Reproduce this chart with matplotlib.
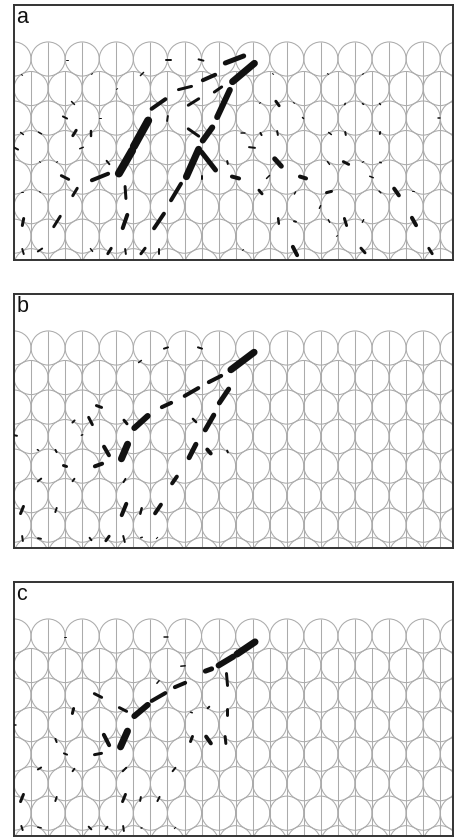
import numpy as np
import matplotlib.pyplot as plt
from matplotlib.patches import Circle
from matplotlib.collections import PatchCollection, LineCollection

PITCH = 34.1      # centre-to-centre spacing of the cells
ROW0 = 54         # depth of the first row of cell centres
GRID_W = 439      # width of each panel

# dash fields, one set per panel: centre x, centre y, length, angle (deg), width (px)
a_x = [154, 187, 128, 171, 204, 195, 220.5, 229.5, 209.5, 193.5,
       178.5, 144.5, 179.5, 153.5, 179.5, 51, 59, 60.5, 76.5, 2,
       67.5, 51, 86, 111.5, 127, 94, 61, 111.5, 9, 43,
       111, 145, 162, 194.5, 188, 9, 26, 77.5, 95.5, 111.5,
       129, 145, 229, 247, 263.5, 238, 213.5, 264, 221.5, 254,
       289, 246.5, 281, 315, 263.5, 289, 316, 331.5, 314.5, 332,
       349, 366.5, 357.5, 366, 382.5, 306, 264.5, 281, 315, 331.5,
       349, 400, 281, 349, 416.5, 331, 349, 366, 366, 425,
       259, 314, 349, 246, 280, 53, 8, 78, 103, 86,
       26, 43, 8, 26, 8, 26, 229, 323, 399]
a_y = [55, 55, 69, 83, 84.5, 72.5, 54.5, 67.5, 98.5, 129,
       158, 99, 97, 113.5, 127.5, 112.5, 98, 128, 128.5, 143.5,
       143, 172.5, 172, 157, 128.5, 157.5, 187, 187.5, 217, 216.5,
       216.5, 216, 187, 156, 172.5, 246.5, 245, 245, 246, 246.5,
       246, 246.5, 128, 129, 128, 142.5, 157.5, 157.5, 172.5, 172,
       172.5, 187, 188, 187, 98.5, 113, 128.5, 128.5, 158, 158,
       157, 157.5, 172, 187, 187, 202, 216, 216.5, 216, 217,
       216, 216.5, 246, 245.5, 246, 99, 99, 99, 128, 113,
       69, 69, 69, 98, 98, 55, 70, 69, 84, 113,
       157, 157, 187, 187, 128.5, 128, 245, 231, 186]
a_len = [7, 7, 6, 16.5, 12, 17.5, 24.7, 35.5, 36, 22.2,
         37, 20.8, 15.3, 7, 15.8, 6.7, 5.7, 9.4, 7, 6.7,
         5.4, 11.2, 21.5, 34.5, 37.6, 6.4, 11.7, 15, 10.2, 15.3,
         18, 21.6, 23.3, 27.8, 5, 7.3, 7.2, 5, 9.4, 7,
         10, 7, 6, 4.5, 6, 8, 5, 14.9, 11.4, 5.7,
         10.4, 7.8, 4, 8.2, 8.6, 3, 5, 5, 5, 9,
         3, 3.2, 5.4, 4, 12.2, 4.5, 8, 4, 4.5, 10.4,
         4.5, 12.5, 13.4, 9.2, 9.4, 3, 3, 3, 4, 4,
         2.5, 2.5, 2.5, 2.5, 2.5, 2.5, 2.5, 2.5, 2.5, 2.5,
         2.5, 2.5, 2.5, 2.5, 5, 5, 2.5, 2.5, 2.5]
a_ang = [0, -15, 45, 14, 35, 24, 21, 40, 65, 54,
         66, 35, 32, 82, -35, -27, -45, 58, 90, -27,
         22, -27, 22, 60, 61, -51, 59, 94, 79, 58,
         71, 56, 59, -52, 90, -74, 34, -53, 58, -82,
         53, 90, 0, -63, -80, -7, -79, -48, -15, 45,
         -17, -50, 60, 14, -54, -45, -37, 101, -53, -27,
         30, -18, -22, -45, -55, 65, -83, -14, -63, -73,
         63, -61, -63, -49, -58, 70, -30, -50, 80, 0,
         -30, -30, 30, 30, -30, 0, -30, 30, 30, 0,
         -30, 30, 0, -30, -37, -30, 30, 30, 0]
a_w = [2, 2, 1.5, 3, 3, 4, 5, 7, 6, 6,
       7, 4, 3, 2, 3, 2, 1.5, 3, 2.5, 2,
       1.5, 3, 4, 8, 8, 2, 3, 3, 3, 3,
       4, 4, 4, 5, 2, 2, 2, 1.5, 3, 2,
       3, 2, 1.5, 2, 2, 2, 2, 5, 4, 1.5,
       4, 3, 1.5, 3, 3, 1.5, 1.5, 2, 1.5, 3,
       1, 1.5, 1.5, 1.5, 4, 1.5, 2.5, 2, 1.5, 3,
       1.5, 4, 4, 3, 3, 1.5, 1.5, 1.5, 2, 1.5,
       1, 1, 1, 1, 1, 1, 1, 1, 1, 1,
       1, 1, 1, 1, 1.5, 1.5, 1, 1, 1]

b_x = [152, 186, 126, 85, 127, 152.5, 177.5, 201, 228.5, 210,
       195.5, 178.5, 195, 213.5, 160.5, 180.5, 76.5, 59.5, 111.5, 1.5,
       68, 92.5, 110.5, 84.5, 51, 42, 24, 25.5, 59.5, 110.5,
       8, 42, 110, 127, 144, 8.5, 25.5, 76.5, 93.5, 110, 127.5, 143]
b_y = [54, 54, 67.5, 112.5, 128, 111, 98, 85, 67, 102,
       128.5, 157, 157.5, 157.5, 186, 126.5, 127, 127.5, 128, 141.5,
       141, 157, 157.5, 171, 172, 157, 156, 186, 186, 186.5,
       216, 216, 215.5, 217, 215, 244.5, 244.5, 245, 244.5, 245, 243.5, 244]
b_len = [6.3, 6.3, 5, 8.5, 24, 14.3, 19.7, 17.9, 36, 21.6,
         22, 20, 9.2, 4, 12.2, 7, 11.2, 5, 7.8, 5,
         3, 13.9, 22.8, 11.7, 6.3, 4.5, 3, 6.4, 5, 5.8,
         10.8, 6.3, 16.2, 8.2, 14.4, 7, 5, 5, 8.6, 8.2, 3.2, 3]
b_ang = [18, -18, 37, -20, 42, 25, 30, 27, 37, 56,
         60, 63, -49, -70, 55, -45, -63, 45, -50, -11,
         20, -60, 67, 20, -18, -63, -30, 39, 53, 59,
         68, 72, 68, 76, 56, -82, -11, -53, 54, -76, 18, 45]
b_w = [2, 2, 1.5, 3, 6, 4, 4, 4, 7, 5,
       5, 5, 4, 2, 4, 2.5, 3, 2, 3, 2,
       1.5, 4, 7, 4, 3, 2, 1.5, 2, 2, 2,
       3, 2, 4, 2.5, 4, 2, 2, 2, 3, 2, 1.5, 1]

c_x = [152, 51, 169, 144, 84, 109, 127, 144.5, 166, 194.5,
       212, 232, 213, 110, 92.5, 84, 59, 177.5, 194.5, 211.5,
       177.5, 194.5, 213, 51.5, 42, 1, 25.5, 59.5, 110.5, 160,
       8, 42, 110, 126.5, 144.5, 8, 25.5, 76, 92.5, 109.5, 127.5, 161]
c_y = [55, 55, 84, 100, 113.5, 127.5, 128.5, 115, 103, 88,
       79, 66, 97.5, 157, 158, 172, 129, 157, 158, 158,
       130.5, 125.5, 130.5, 172, 158.5, 143, 186.5, 188, 187.5, 187.5,
       216, 217, 216, 217, 217, 246, 245.5, 246, 246, 246.5, 246, 246]
c_len = [6, 2.5, 6, 5, 11.2, 11.2, 23.4, 19.7, 15.2, 11.7,
         23.3, 28.8, 15, 24.2, 15.7, 10.2, 8.2, 8.5, 12.2, 10,
         3.2, 4.2, 9, 5.4, 5.4, 3, 5.8, 5, 7, 6.4,
         10.8, 6.3, 10.8, 6, 6.7, 6.3, 5, 5.7, 5, 7, 3, 3]
c_ang = [0, 0, 5, 50, -27, -27, 40, 30, 23, 20,
         31, 34, 95, 66, -63, 11, 76, 69, -55, -84,
         -18, 45, 90, -22, -68, 0, 31, 53, 45, 51,
         68, 72, 68, 80, 63, -72, -11, -45, 53, -82, 0, 45]
c_w = [1.5, 1, 1.5, 1.5, 3, 3, 6, 4, 4, 5,
       6, 7, 3, 7, 4, 3, 3, 3, 4, 3,
       1.5, 2, 3, 2, 2, 1.5, 2, 2, 2, 2,
       3, 2, 3, 2, 2, 2, 1.5, 2, 2, 2, 1.5, 1]

labels = ['a', 'b', 'c']
panel_top = [5, 294, 582]
panel_h = [255, 254, 254]
fields = [(a_x, a_y, a_len, a_ang, a_w),
          (b_x, b_y, b_len, b_ang, b_w),
          (c_x, c_y, c_len, c_ang, c_w)]

grid_color = '#ababab'


def draw_lattice(ax, height):
    r = PITCH / 2
    dy = PITCH * np.sqrt(3) / 2
    cells = []
    nrows = int((height - ROW0 + r) / dy) + 1
    for row in range(nrows + 1):
        yc = ROW0 + row * dy
        off = (row % 2) * r
        for k in range(-1, int(GRID_W / PITCH) + 2):
            cells.append(Circle((off + k * PITCH, yc), r))
    ax.add_collection(PatchCollection(cells, facecolor='none',
                                      edgecolor=grid_color, linewidth=0.75))
    # vertical diameters, running down from the first cell of each column
    segs = []
    for j, x in enumerate(np.arange(0, GRID_W + r, r)):
        y0 = ROW0 - r if j % 2 == 0 else ROW0 + dy - r
        segs.append([(x, y0), (x, height)])
    ax.add_collection(LineCollection(segs, colors=grid_color, linewidths=0.75))


def draw_dashes(ax, x, y, length, angle, width):
    w = np.asarray(width, float)
    t = np.radians(angle)
    core = np.maximum(np.asarray(length, float) - w, 0.4)
    hx = core / 2 * np.cos(t)
    hy = core / 2 * np.sin(t)
    segs = [[(cx - a, cy + b), (cx + a, cy - b)]
            for cx, cy, a, b in zip(x, y, hx, hy)]
    ax.add_collection(LineCollection(segs, colors='#111111', linewidths=w * 0.72,
                                     capstyle='round', zorder=3))


fig = plt.figure(figsize=(4.54, 8.38), dpi=100)

for lab, top, h, fld in zip(labels, panel_top, panel_h, fields):
    assert len({len(v) for v in fld}) == 1, lab
    ax = fig.add_axes([14 / 454, 1 - (top + h) / 838, GRID_W / 454, h / 838])
    ax.set_xlim(0, GRID_W)
    ax.set_ylim(h, 0)
    ax.set_xticks([])
    ax.set_yticks([])
    for s in ax.spines.values():
        s.set_color('#333333')
        s.set_linewidth(1.4)
    draw_lattice(ax, h)
    draw_dashes(ax, *fld)
    ax.text(2.5, 1.5, lab, ha='left', va='top', fontsize=15.5,
            family='Liberation Sans', color='#111111')

fig.savefig('out.png', dpi=100)
